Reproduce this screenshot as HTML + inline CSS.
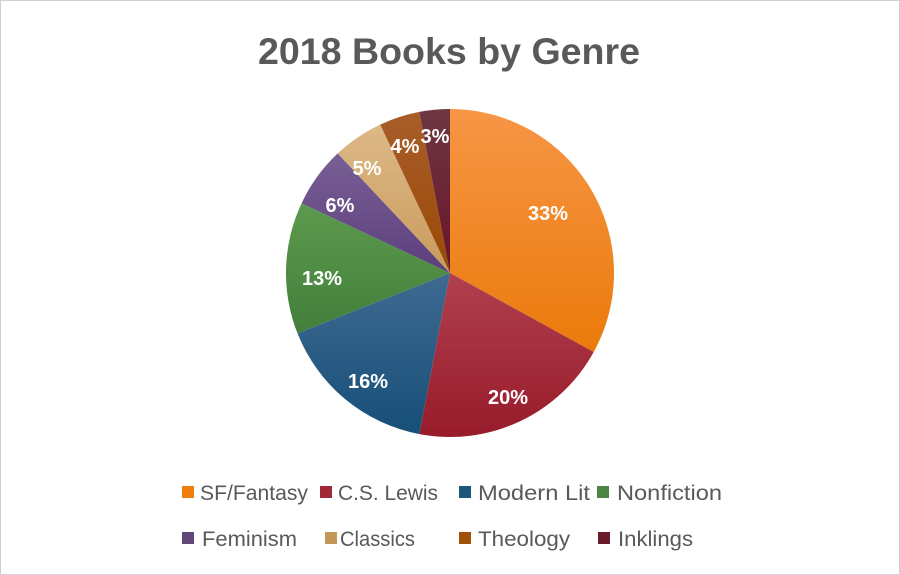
<!DOCTYPE html>
<html><head><meta charset="utf-8"><style>
html,body{margin:0;padding:0;background:#fff}
svg{display:block}
</style></head><body>
<svg width="900" height="575" viewBox="0 0 900 575" xmlns="http://www.w3.org/2000/svg" font-family="Liberation Sans, sans-serif">
<defs>
<linearGradient id="g0" x1="0" y1="0" x2="0" y2="1"><stop offset="0" stop-color="#f79646"/><stop offset="1" stop-color="#ea7a0a"/></linearGradient>
<linearGradient id="g1" x1="0" y1="0" x2="0" y2="1"><stop offset="0" stop-color="#b0404f"/><stop offset="1" stop-color="#981b2a"/></linearGradient>
<linearGradient id="g2" x1="0" y1="0" x2="0" y2="1"><stop offset="0" stop-color="#3f6a91"/><stop offset="1" stop-color="#164f78"/></linearGradient>
<linearGradient id="g3" x1="0" y1="0" x2="0" y2="1"><stop offset="0" stop-color="#5d9a4e"/><stop offset="1" stop-color="#437f3b"/></linearGradient>
<linearGradient id="g4" x1="0" y1="0" x2="0" y2="1"><stop offset="0" stop-color="#7a5f96"/><stop offset="1" stop-color="#5b3f7c"/></linearGradient>
<linearGradient id="g5" x1="0" y1="0" x2="0" y2="1"><stop offset="0" stop-color="#ddb988"/><stop offset="1" stop-color="#c99a5c"/></linearGradient>
<linearGradient id="g6" x1="0" y1="0" x2="0" y2="1"><stop offset="0" stop-color="#a95d2a"/><stop offset="1" stop-color="#994a06"/></linearGradient>
<linearGradient id="g7" x1="0" y1="0" x2="0" y2="1"><stop offset="0" stop-color="#6e3743"/><stop offset="1" stop-color="#6a1526"/></linearGradient>
</defs>
<rect x="0.5" y="0.5" width="899" height="574" fill="#fff" stroke="#d0d0d0"/>
<text x="258" y="64" font-size="37" font-weight="bold" fill="#595959" textLength="382" lengthAdjust="spacingAndGlyphs">2018 Books by Genre</text>
<g>
<path d="M450,273 L450,109 A164,164 0 0 1 593.7,352 Z" fill="url(#g0)"/>
<path d="M450,273 L593.7,352 A164,164 0 0 1 419.3,434.1 Z" fill="url(#g1)"/>
<path d="M450,273 L419.3,434.1 A164,164 0 0 1 297.5,333.4 Z" fill="url(#g2)"/>
<path d="M450,273 L297.5,333.4 A164,164 0 0 1 301.6,203.2 Z" fill="url(#g3)"/>
<path d="M450,273 L301.6,203.2 A164,164 0 0 1 337.7,153.4 Z" fill="url(#g4)"/>
<path d="M450,273 L337.7,153.4 A164,164 0 0 1 380.2,124.6 Z" fill="url(#g5)"/>
<path d="M450,273 L380.2,124.6 A164,164 0 0 1 419.3,111.9 Z" fill="url(#g6)"/>
<path d="M450,273 L419.3,111.9 A164,164 0 0 1 450,109 Z" fill="url(#g7)"/>
</g>
<g font-size="20" font-weight="bold" fill="#fff" text-anchor="middle">
<text x="548" y="220">33%</text>
<text x="508" y="404">20%</text>
<text x="368" y="388">16%</text>
<text x="322" y="285">13%</text>
<text x="340" y="212">6%</text>
<text x="367" y="175">5%</text>
<text x="405" y="153">4%</text>
<text x="435" y="143">3%</text>
</g>
<g font-size="21" fill="#595959">
<rect x="182" y="486" width="12" height="12" fill="#f07f09"/><text x="200" y="500" textLength="108" lengthAdjust="spacingAndGlyphs">SF/Fantasy</text>
<rect x="320" y="486" width="12" height="12" fill="#9f2936"/><text x="338" y="500" textLength="100" lengthAdjust="spacingAndGlyphs">C.S. Lewis</text>
<rect x="459" y="486" width="12" height="12" fill="#1b587c"/><text x="478" y="500" textLength="112" lengthAdjust="spacingAndGlyphs">Modern Lit</text>
<rect x="597" y="486" width="12" height="12" fill="#4e8542"/><text x="617" y="500" textLength="105" lengthAdjust="spacingAndGlyphs">Nonfiction</text>
<rect x="182" y="532" width="12" height="12" fill="#604878"/><text x="202" y="546" textLength="95" lengthAdjust="spacingAndGlyphs">Feminism</text>
<rect x="325" y="532" width="12" height="12" fill="#c19859"/><text x="340" y="546" textLength="75" lengthAdjust="spacingAndGlyphs">Classics</text>
<rect x="459" y="532" width="12" height="12" fill="#a0520a"/><text x="478" y="546" textLength="92" lengthAdjust="spacingAndGlyphs">Theology</text>
<rect x="598" y="532" width="12" height="12" fill="#6b1a2c"/><text x="618" y="546" textLength="75" lengthAdjust="spacingAndGlyphs">Inklings</text>
</g>
</svg>
</body></html>
